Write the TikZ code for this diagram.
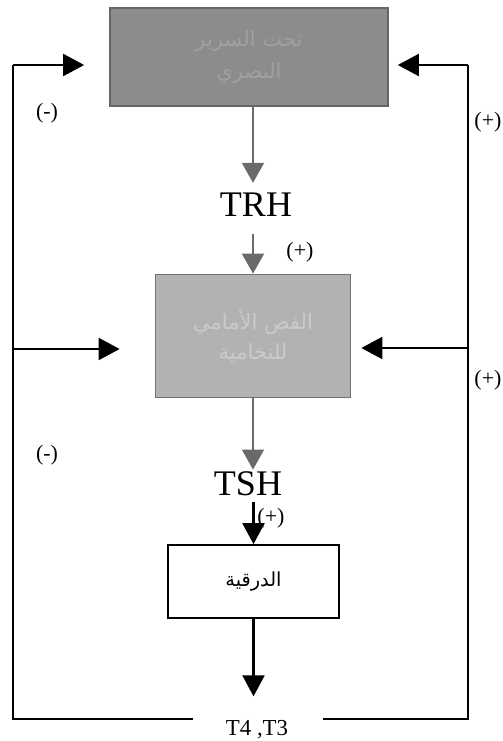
\documentclass[tikz,border=0pt]{standalone}
\usepackage{fontspec}
\setmainfont{Liberation Serif}
\newfontfamily\arabicfont[Script=Arabic]{DejaVu Sans}
\TeXXeTstate=1
\usepackage{tikz}
\usetikzlibrary{arrows.meta}

\definecolor{hypofill}{HTML}{8C8C8C}
\definecolor{hypotext}{HTML}{A0A0A0}
\definecolor{antfill}{HTML}{B2B2B2}
\definecolor{anttext}{HTML}{CACACA}
\definecolor{arrowgray}{HTML}{6A6A6A}

\begin{document}
\begin{tikzpicture}[x=0.02cm, y=-0.02cm,
    gland/.style={draw, rectangle, line width=1pt, inner sep=0, align=center},
    hormone/.style={inner sep=0},
    signlabel/.style={inner sep=1pt, font=\fontsize{12.5}{12.5}\selectfont},
    garrow/.style={draw=arrowgray, line width=1pt, -{Triangle[length=0.4cm,width=0.44cm]}},
    barrow/.style={line width=1.2pt, -{Triangle[length=0.42cm,width=0.44cm]}},
    fbline/.style={line width=1.2pt}]
    \useasboundingbox (0,0) rectangle (503,741);

    % glands
    \node[gland, draw=black!60, fill=hypofill, text=hypotext, minimum width=5.56cm, minimum height=1.96cm,
        font=\arabicfont\fontsize{12}{18}\selectfont] (hypo) at (249,57)
        {\beginR تحت السرير\endR\\\beginR البصري\endR};
    \node[gland, draw=black!55, fill=antfill, text=anttext, minimum width=3.9cm, minimum height=2.46cm,
        font=\arabicfont\fontsize{12}{17}\selectfont] (ant) at (253,336)
        {\beginR الفص الأمامي\endR\\\beginR للنخامية\endR};
    \node[gland, minimum width=3.42cm, minimum height=1.46cm,
        font=\arabicfont\fontsize{11}{11}\selectfont] (thyr) at (253.5,581.5)
        {\beginR الدرقية\endR};

    % hormones
    \node[hormone, font=\fontsize{20.5}{20.5}\selectfont] (trh) at (256,205) {TRH};
    \node[hormone, font=\fontsize{20.5}{20.5}\selectfont] (tsh) at (248,484) {TSH};
    \node[hormone, font=\fontsize{13}{13}\selectfont] (hormones) at (257,730) {T4 ,T3};

    % main axis
    \draw[garrow, shorten >=0.2cm] (hypo.south -| ant) -- (trh.north -| ant);
    \draw[garrow, shorten <=0.34cm] (trh.south -| ant) -- (ant.north);
    \draw[garrow, shorten >=0.04cm] (ant.south) -- (tsh.north -| ant);
    \draw[barrow, shorten <=0.12cm] (tsh.south -| thyr) -- (thyr.north);
    \draw[barrow, shorten >=0.48cm] (thyr.south) -- (hormones.north -| thyr);

    % feedback
    \coordinate (lgap) at (193,719);
    \coordinate (rgap) at (323,719);
    \coordinate (lt) at (13,65);
    \coordinate (lm) at (13,349);
    \coordinate (rt) at (468,65);
    \coordinate (rm) at (468,348);
    \draw[fbline] (lgap) -| (lt);
    \draw[fbline] (rgap) -| (rt);
    \draw[barrow, shorten >=0.5cm] (lt) -- (lt -| hypo.west);
    \draw[barrow, shorten >=0.7cm] (lm) -- (lm -| ant.west);
    \draw[barrow, shorten >=0.18cm] (rt) -- (rt -| hypo.east);
    \draw[barrow, shorten >=0.2cm] (rm) -- (rm -| ant.east);

    % signs
    \node[signlabel] (s1) at (47,113) {(-)};
    \node[signlabel] (s2) at (47,455) {(-)};
    \node[signlabel] (s3) at (488,122) {(+)};
    \node[signlabel] (s4) at (488,380) {(+)};
    \node[signlabel] (s5) at (300,252) {(+)};
    \node[signlabel] (s6) at (271,518) {(+)};
\end{tikzpicture}
\end{document}
